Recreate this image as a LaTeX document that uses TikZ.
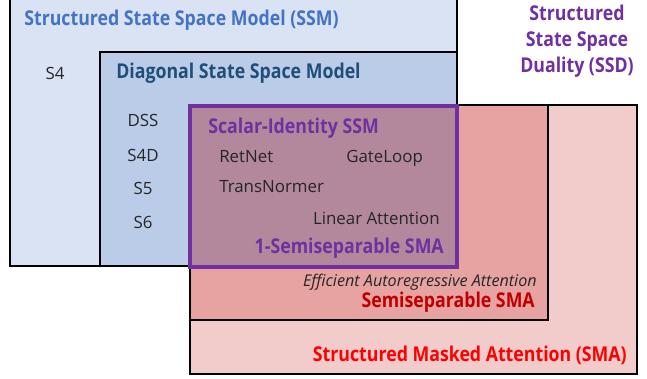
\documentclass[tikz,border=0pt]{standalone}
\usepackage{fontspec}
\setmainfont{Open Sans}
\newfontfamily\headfont[FakeStretch=0.87]{Open Sans}
\definecolor{ssmfill}{HTML}{DAE3F3}
\definecolor{dsmfill}{HTML}{BBCCE9}
\definecolor{smafill}{HTML}{F2CBCB}
\definecolor{semifill}{HTML}{E7A3A2}
\definecolor{sifill}{HTML}{B3889C}
\definecolor{ssmtext}{HTML}{4472C4}
\definecolor{dsmtext}{HTML}{1F4E79}
\definecolor{ssdpurple}{HTML}{7030A0}
\definecolor{semitext}{HTML}{C00000}
\definecolor{smatext}{HTML}{FF0000}
\definecolor{itemgray}{HTML}{262626}
\tikzset{
  box/.style={draw=black, line width=1.3pt},
  head/.style={font=\headfont\bfseries\fontsize{14.5}{16}\selectfont, inner sep=0pt},
  item/.style={font=\fontsize{12}{14}\selectfont, text=itemgray, inner sep=0pt}
}

\begin{document}
\begin{tikzpicture}[x=0.025cm, y=-0.025cm]
\useasboundingbox (0,0) rectangle (647,379);
% state space models
\fill [ssmfill] (10,-5) rectangle (457,266);
\draw [box] (10,-5) -- (10,266) -- (457,266) -- (457,-5);
\filldraw [box, fill=dsmfill] (100,52) rectangle (457,266);
% masked attention
\filldraw [box, fill=smafill] (190,105) rectangle (637,374);
\filldraw [box, fill=semifill] (190,105) rectangle (548,320);
% overlap: scalar-identity
\filldraw [draw=ssdpurple, line width=2.2pt, fill=sifill] (190,106) rectangle (457,267);

\node[head, text=ssmtext, anchor=west] (ssm) at (24,20) {Structured State Space Model (SSM)};
\node[item] (s4) at (55,73) {S4};
\node[head, text=dsmtext, anchor=west] (dsm) at (116,73) {Diagonal State Space Model};
\node[item] (dss) at (143,120) {DSS};
\node[item] (s4d) at (143,155) {S4D};
\node[item] (s5) at (143,188) {S5};
\node[item] (s6) at (143,222) {S6};
\node[head, text=ssdpurple, anchor=west] (sissm) at (208,128) {Scalar-Identity SSM};
\node[item, anchor=west] (retnet) at (219,157) {RetNet};
\node[item, anchor=west] (gateloop) at (346,158) {GateLoop};
\node[item, anchor=west] (transnormer) at (219,187) {TransNormer};
\node[item, anchor=east] (linattn) at (440,218) {Linear Attention};
\node[head, text=ssdpurple, anchor=east] (onesemi) at (444,248) {1-Semiseparable SMA};
\node[item, font=\itshape\fontsize{11.5}{13}\selectfont, anchor=east] (effattn) at (537,282) {Efficient Autoregressive Attention};
\node[head, text=semitext, anchor=east] (semi) at (535,302) {Semiseparable SMA};
\node[head, text=smatext, anchor=east] (sma) at (627,355) {Structured Masked Attention (SMA)};
\node[head, text=ssdpurple, align=center, font=\headfont\bfseries\fontsize{14.5}{18.5}\selectfont] (ssd) at (577,41) {Structured\\State Space\\Duality (SSD)};
\end{tikzpicture}
\end{document}
